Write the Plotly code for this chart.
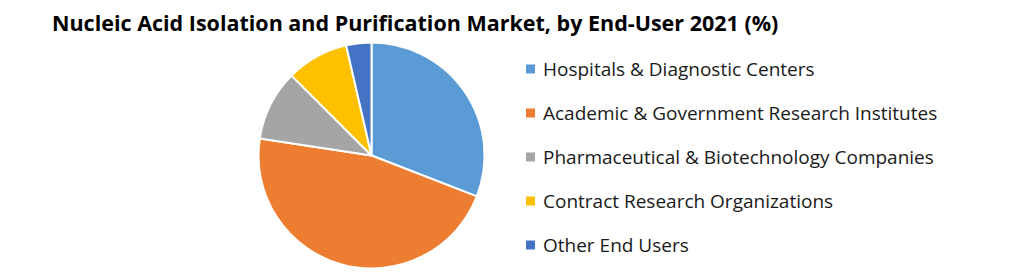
import plotly.graph_objects as go

labels = ["Hospitals & Diagnostic Centers",
          "Academic & Government Research Institutes",
          "Pharmaceutical & Biotechnology Companies",
          "Contract Research Organizations",
          "Other End Users"]
values = [30.9, 46.5, 10.1, 8.9, 3.6]
colors = ["#5B9BD5", "#ED7D31", "#A5A5A5", "#FFC000", "#4472C4"]
title = "Nucleic Acid Isolation and Purification Market, by End-User 2021 (%)"

W, H = 1021, 272
cx, cy, r = 371.5, 155.5, 113

fig = go.Figure(go.Pie(
    labels=labels, values=values, sort=False, direction="clockwise", rotation=0,
    marker=dict(colors=colors, line=dict(color="white", width=2)),
    textinfo="none", hoverinfo="label+percent", showlegend=False,
    domain=dict(x=[(cx - r) / W, (cx + r) / W], y=[(H - cy - r) / H, (H - cy + r) / H]),
))

annotations = [dict(text="<b>" + title + "</b>", x=50 / W, y=1 - 22 / H, xref="paper", yref="paper",
                    xanchor="left", yanchor="middle", showarrow=False,
                    font=dict(family="Open Sans", size=21.5, color="#000000"))]
shapes = []
y0 = 69
gap = 44
for i, (lab, col) in enumerate(zip(labels, colors)):
    yc = y0 + i * gap
    shapes.append(dict(type="rect", xref="paper", yref="paper",
                       x0=526 / W, x1=535 / W, y0=1 - (yc + 4.5) / H, y1=1 - (yc - 4.5) / H,
                       fillcolor=col, line=dict(width=0)))
    annotations.append(dict(text=lab, x=541 / W, y=1 - yc / H, xref="paper", yref="paper",
                            xanchor="left", yanchor="middle", showarrow=False,
                            font=dict(family="Open Sans", size=19, color="#1a1a1a")))

fig.update_layout(width=W, height=H, margin=dict(l=0, r=0, t=0, b=0),
                  paper_bgcolor="white", plot_bgcolor="white",
                  annotations=annotations, shapes=shapes)
fig.write_html("out.html")
